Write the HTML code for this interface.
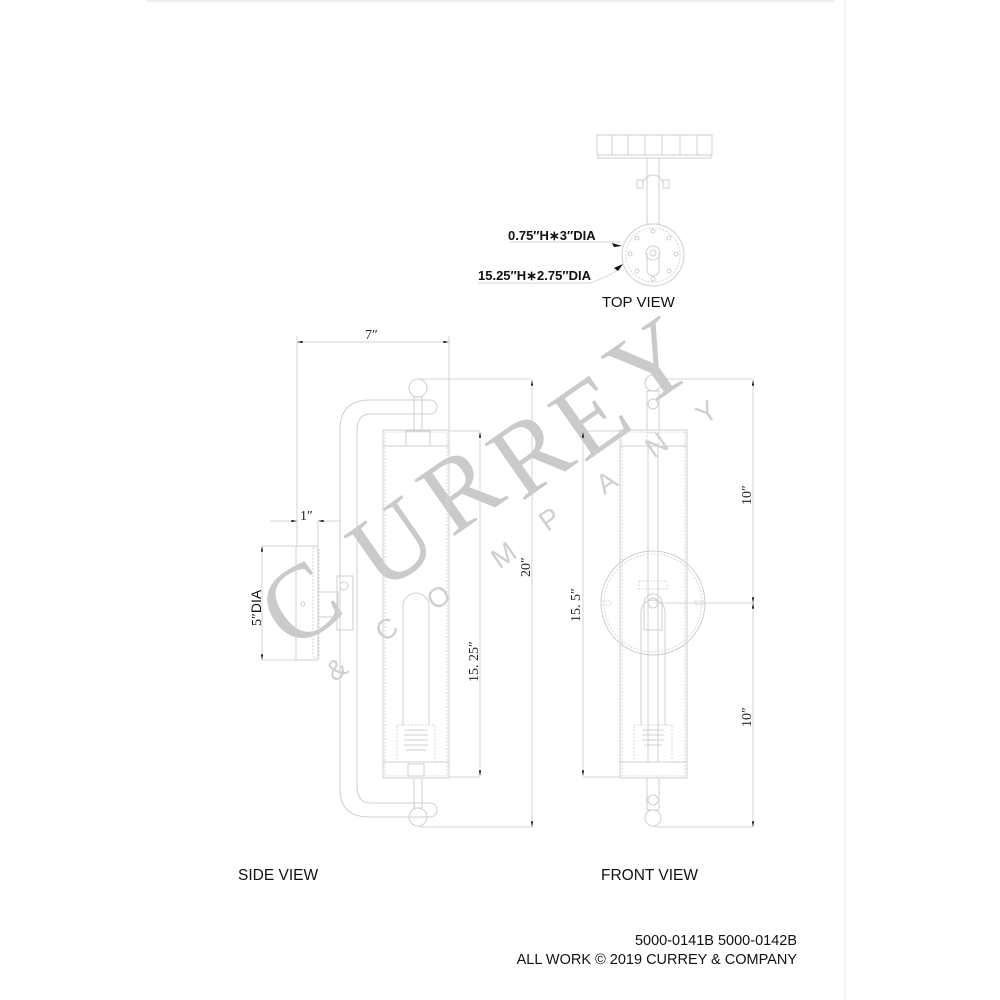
<!DOCTYPE html>
<html><head><meta charset="utf-8"><style>
html,body{margin:0;padding:0;background:#fff;}
svg{display:block}
.l{stroke:#cfcfcf;stroke-width:1;fill:none}
.d{stroke:#d6d6d6;stroke-width:1;fill:none;stroke-dasharray:2 1.5}
.dim{stroke:#c8c8c8;stroke-width:0.8;fill:none}
.t{font-family:"Liberation Serif",serif;font-size:14px;fill:#222}
.s{font-family:"Liberation Sans",sans-serif;fill:#111}
.w{font-family:"Liberation Serif",serif;fill:#cacaca}
.w2{font-family:"Liberation Sans",sans-serif;fill:#cfcfcf;font-weight:normal}
</style></head><body>
<svg width="1000" height="1000" viewBox="0 0 1000 1000" xmlns="http://www.w3.org/2000/svg">
<defs><marker id="a" viewBox="0 0 10 10" refX="10" refY="5" markerWidth="10" markerHeight="7" orient="auto-start-reverse"><path d="M0,3 L10,5 L0,7 z" fill="#111"/></marker></defs>
<line x1="147" y1="1" x2="835" y2="1" stroke="#ddd"/>
<line x1="845" y1="0" x2="845" y2="1000" stroke="#e6e6e6"/>

<g class="w" font-size="105">
<text transform="translate(320,632) rotate(-35)" text-anchor="middle">C</text>
<text transform="translate(412,572) rotate(-35)" text-anchor="middle">U</text>
<text transform="translate(480,518) rotate(-35)" text-anchor="middle">R</text>
<text transform="translate(550,482) rotate(-35)" text-anchor="middle">R</text>
<text transform="translate(610,445) rotate(-35)" text-anchor="middle">E</text>
<text transform="translate(670,392) rotate(-35)" text-anchor="middle">Y</text>
</g>
<g class="w2" font-size="28">
<text transform="translate(342,677) rotate(-35)" text-anchor="middle">&amp;</text>
<text transform="translate(392,637) rotate(-35)" text-anchor="middle">C</text>
<text transform="translate(444,605) rotate(-35)" text-anchor="middle">O</text>
<text transform="translate(509,563) rotate(-35)" text-anchor="middle">M</text>
<text transform="translate(555,527) rotate(-35)" text-anchor="middle">P</text>
<text transform="translate(612,490) rotate(-35)" text-anchor="middle">A</text>
<text transform="translate(662,453) rotate(-35)" text-anchor="middle">N</text>
<text transform="translate(712,420) rotate(-35)" text-anchor="middle">Y</text>
</g>

<!-- TOP VIEW -->
<rect class="l" x="597" y="135" width="115" height="20"/>
<g class="l"><line x1="612" y1="135" x2="612" y2="155"/><line x1="628" y1="135" x2="628" y2="155"/><line x1="645" y1="135" x2="645" y2="155"/><line x1="662" y1="135" x2="662" y2="155"/><line x1="680" y1="135" x2="680" y2="155"/><line x1="697" y1="135" x2="697" y2="155"/></g>
<rect class="l" x="598" y="155" width="113" height="3"/>
<rect class="l" x="647" y="158" width="12" height="66"/>
<path class="l" d="M643,185 a10,10 0 0 1 20,0"/>
<rect class="l" x="637" y="180" width="6" height="8"/><rect class="l" x="663" y="180" width="6" height="8"/>
<circle class="l" cx="653" cy="255" r="31"/>
<circle class="d" cx="653" cy="255" r="27"/>
<circle class="l" cx="653" cy="253" r="7"/><circle class="l" cx="653" cy="253" r="3"/>
<path class="l" d="M647,253 v17 a6,6 0 0 0 12,0 v-17"/>
<g class="l"><circle cx="653" cy="231" r="2"/><circle cx="653" cy="279" r="2"/><circle cx="630" cy="254" r="2"/><circle cx="676" cy="254" r="2"/><circle cx="637" cy="238" r="2"/><circle cx="669" cy="238" r="2"/><circle cx="637" cy="271" r="2"/><circle cx="669" cy="271" r="2"/></g>
<path class="dim" d="M510,242 L620,242"/><path d="M612,243 L622,246 L614,247z" fill="#111"/>
<path class="dim" d="M478,283 L590,283 Q610,276 620,268"/><path d="M614,268 L623,264 L618,271z" fill="#111"/>
<text class="s" x="508" y="240" font-size="13" font-weight="bold">0.75″H∗3″DIA</text>
<text class="s" x="478" y="280" font-size="13" font-weight="bold">15.25″H∗2.75″DIA</text>
<text class="s" x="602" y="307" font-size="15">TOP VIEW</text>

<!-- SIDE VIEW -->
<line class="dim" x1="297" y1="342" x2="449" y2="342" marker-start="url(#a)" marker-end="url(#a)"/>
<line class="dim" x1="297" y1="336" x2="297" y2="546"/><line class="dim" x1="449" y1="336" x2="449" y2="430"/>
<text class="t" x="365" y="339">7″</text>
<circle class="l" cx="418" cy="388" r="9"/><circle class="l" cx="418" cy="817" r="9"/>
<path class="l" d="M340,790 V430 Q340,400 370,400 H430 a7,7 0 0 1 0,14 H370 Q357,414 357,432 V785 Q357,803 370,803 H430 a7,7 0 0 1 0,14 H370 Q340,817 340,790"/>
<rect class="l" x="414" y="397" width="8" height="33"/><rect class="l" x="414" y="778" width="8" height="30"/>
<rect class="l" x="383" y="430" width="66" height="348"/>
<rect class="d" x="385" y="432" width="62" height="344"/>
<line class="l" x1="383" y1="446" x2="449" y2="446"/><line class="l" x1="383" y1="762" x2="449" y2="762"/>
<rect class="l" x="406" y="431" width="24" height="15"/>
<path class="l" d="M403,725 V606 a13,13 0 0 1 26,0 V725"/>
<rect class="d" x="397" y="725" width="38" height="37"/>
<g class="l"><line x1="404" y1="730" x2="428" y2="730"/><line x1="404" y1="735" x2="428" y2="735"/><line x1="404" y1="740" x2="428" y2="740"/><line x1="404" y1="745" x2="428" y2="745"/><line x1="406" y1="750" x2="426" y2="750"/></g>
<rect class="l" x="408" y="764" width="16" height="12"/>
<rect class="l" x="296" y="546" width="22" height="114"/>
<rect class="d" x="313" y="548" width="6" height="110"/>
<circle class="l" cx="303" cy="604" r="2"/>
<rect class="l" x="318" y="592" width="20" height="25"/>
<rect class="l" x="337" y="576" width="16" height="54"/><circle class="l" cx="344" cy="586" r="4"/>
<line class="dim" x1="270" y1="521" x2="297" y2="521" marker-end="url(#a)"/>
<line class="dim" x1="340" y1="521" x2="318" y2="521" marker-end="url(#a)"/>
<line class="dim" x1="318" y1="521" x2="318" y2="546"/>
<text class="t" x="300" y="520">1″</text>
<line class="dim" x1="262" y1="546" x2="262" y2="660" marker-start="url(#a)" marker-end="url(#a)"/>
<line class="dim" x1="262" y1="546" x2="296" y2="546"/><line class="dim" x1="262" y1="660" x2="296" y2="660"/>
<text class="s" transform="translate(261,626) rotate(-90)" font-size="14"><tspan font-family="Liberation Serif">5″</tspan>DIA</text>
<line class="dim" x1="532" y1="380" x2="532" y2="827" marker-start="url(#a)" marker-end="url(#a)"/>
<line class="dim" x1="420" y1="379" x2="532" y2="379"/><line class="dim" x1="420" y1="827" x2="532" y2="827"/>
<text class="t" transform="translate(530,577) rotate(-90)">20″</text>
<line class="dim" x1="480" y1="432" x2="480" y2="776" marker-start="url(#a)" marker-end="url(#a)"/>
<line class="dim" x1="449" y1="431" x2="480" y2="431"/><line class="dim" x1="449" y1="777" x2="480" y2="777"/>
<text class="t" transform="translate(478,682) rotate(-90)">15. 25″</text>
<text class="s" x="238" y="880" font-size="15.5">SIDE VIEW</text>

<!-- FRONT VIEW -->
<circle class="l" cx="653" cy="383" r="8"/><circle class="l" cx="653" cy="818" r="8"/>
<rect class="l" x="647" y="391" width="12" height="39"/><circle class="l" cx="653" cy="404" r="5"/>
<rect class="l" x="647" y="778" width="12" height="32"/><circle class="l" cx="653" cy="800" r="5"/>
<rect class="l" x="620" y="430" width="67" height="348"/>
<rect class="d" x="622" y="432" width="63" height="344"/>
<line class="l" x1="620" y1="446" x2="687" y2="446"/><line class="l" x1="620" y1="762" x2="687" y2="762"/>
<line class="l" x1="648" y1="446" x2="648" y2="762"/><line class="l" x1="658" y1="446" x2="658" y2="762"/>
<rect class="d" x="647" y="433" width="12" height="11"/>
<circle class="l" cx="653" cy="603" r="52"/>
<circle class="d" cx="653" cy="603" r="49"/>
<rect class="d" x="639" y="581" width="28" height="8"/>
<path class="l" d="M644,603 a9,9 0 0 1 18,0 V630 H644z"/><circle class="l" cx="653" cy="603" r="5"/>
<rect class="d" x="601" y="601" width="10" height="4"/><rect class="d" x="695" y="601" width="10" height="4"/>
<path class="l" d="M641,725 V612 a12,12 0 0 1 24,0 V725"/>
<rect class="d" x="634" y="725" width="38" height="37"/>
<g class="l"><line x1="642" y1="730" x2="664" y2="730"/><line x1="642" y1="735" x2="664" y2="735"/><line x1="642" y1="740" x2="664" y2="740"/><line x1="644" y1="745" x2="662" y2="745"/></g>
<line class="dim" x1="655" y1="603" x2="753" y2="603"/>
<line class="dim" x1="753" y1="380" x2="753" y2="603" marker-start="url(#a)" marker-end="url(#a)"/>
<line class="dim" x1="753" y1="603" x2="753" y2="827" marker-start="url(#a)" marker-end="url(#a)"/>
<line class="dim" x1="655" y1="379" x2="753" y2="379"/><line class="dim" x1="655" y1="827" x2="753" y2="827"/>
<text class="t" transform="translate(751,505) rotate(-90)">10″</text>
<text class="t" transform="translate(751,727) rotate(-90)">10″</text>
<line class="dim" x1="583" y1="432" x2="583" y2="776" marker-start="url(#a)" marker-end="url(#a)"/>
<line class="dim" x1="583" y1="431" x2="620" y2="431"/><line class="dim" x1="583" y1="777" x2="620" y2="777"/>
<text class="t" transform="translate(580,622) rotate(-90)">15. 5″</text>
<text class="s" x="601" y="880" font-size="15.5">FRONT VIEW</text>

<text class="s" x="797" y="945" font-size="14.5" text-anchor="end">5000-0141B 5000-0142B</text>
<text class="s" x="797" y="964" font-size="14.5" text-anchor="end">ALL WORK © 2019 CURREY &amp; COMPANY</text>
</svg>
</body></html>
